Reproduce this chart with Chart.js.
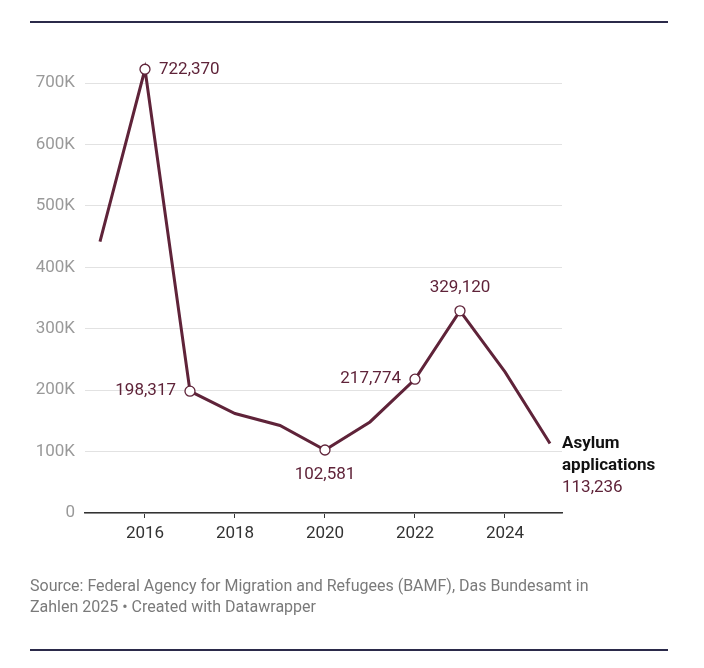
<!DOCTYPE html>
<html>
<head>
<meta charset="utf-8">
<script src="https://cdn.jsdelivr.net/npm/chart.js@4"></script>
<style>
  html, body { margin: 0; padding: 0; background: #fff; }
  #wrap { position: relative; width: 704px; height: 668px; }
</style>
</head>
<body>
<div id="wrap"><canvas id="chart" width="704" height="668"></canvas></div>
<script>
// Data
const years = [2015, 2016, 2017, 2018, 2019, 2020, 2021, 2022, 2023, 2024, 2025];
const applications = [441899, 722370, 198317, 161931, 142509, 102581, 148233, 217774, 329120, 229751, 113236];
const yearTicks = [2016, 2018, 2020, 2022, 2024];
const valueTicks = [0, 100000, 200000, 300000, 400000, 500000, 600000, 700000];

// Which points get a circle + label, and where the label sits
const labelled = [
    { year: 2016, side: 'right' },
    { year: 2017, side: 'left' },
    { year: 2020, side: 'below' },
    { year: 2022, side: 'left' },
    { year: 2023, side: 'above' }
];

const lineColor = '#5f2339';
const fmt = v => v.toLocaleString('en-US');

const annotations = {
    id: 'annotations',
    afterDraw(chart) {
        const c = chart.ctx;
        const xs = chart.scales.x, ys = chart.scales.y;
        c.save();

        // header / footer rules
        c.fillStyle = '#2b2a4a';
        c.fillRect(30, 21, 638, 2);
        c.fillRect(30, 649, 638, 2);

        // labelled points
        c.font = '17px Roboto';
        labelled.forEach(l => {
            const i = years.indexOf(l.year);
            const px = xs.getPixelForValue(l.year), py = ys.getPixelForValue(applications[i]);
            c.beginPath();
            c.arc(px, py, 5, 0, Math.PI * 2);
            c.fillStyle = '#fff';
            c.fill();
            c.lineWidth = 1.3;
            c.strokeStyle = lineColor;
            c.stroke();
            c.fillStyle = lineColor;
            c.textBaseline = 'middle';
            const t = fmt(applications[i]);
            if (l.side === 'right') { c.textAlign = 'left'; c.fillText(t, px + 14, py); }
            if (l.side === 'left') { c.textAlign = 'right'; c.fillText(t, px - 14, py); }
            if (l.side === 'below') { c.textAlign = 'center'; c.fillText(t, px, py + 25); }
            if (l.side === 'above') { c.textAlign = 'center'; c.fillText(t, px, py - 23); }
        });

        // end label
        const last = applications.length - 1;
        const ex = xs.getPixelForValue(years[last]) + 12;
        c.textAlign = 'left';
        c.textBaseline = 'middle';
        c.fillStyle = '#111';
        c.font = 'bold 17px Roboto';
        c.fillText('Asylum', ex, 444);
        c.fillText('applications', ex, 466);
        c.fillStyle = lineColor;
        c.font = '17px Roboto';
        c.fillText(fmt(applications[last]), ex, 488);

        // source
        c.fillStyle = '#7a7a7a';
        c.font = '16px Roboto';
        c.fillText('Source: Federal Agency for Migration and Refugees (BAMF), Das Bundesamt in', 30, 587);
        c.fillText('Zahlen 2025 \u2022 Created with Datawrapper', 30, 608);
        c.restore();
    }
};

new Chart(document.getElementById('chart'), {
    type: 'line',
    data: {
        datasets: [{
            data: years.map((y, i) => ({ x: y, y: applications[i] })),
            borderColor: lineColor,
            borderWidth: 3,
            pointRadius: 0,
            tension: 0,
            clip: false
        }]
    },
    options: {
        responsive: false,
        animation: false,
        devicePixelRatio: 1,
        layout: { padding: { top: 83, right: 142, left: 0, bottom: 0 } },
        plugins: { legend: { display: false }, tooltip: { enabled: false } },
        scales: {
            x: {
                type: 'linear',
                min: 2014.667,
                max: 2025.267,
                afterBuildTicks: s => { s.ticks = yearTicks.map(v => ({ value: v })); },
                afterFit: s => { s.height = 155; },
                ticks: { color: '#333', font: { family: 'Roboto', size: 17 }, padding: 6, callback: v => String(v), maxRotation: 0 },
                grid: { display: true, drawOnChartArea: false, tickLength: 5, color: '#333' },
                border: { color: '#333', width: 1.5 }
            },
            y: {
                min: 0,
                max: 700000,
                afterBuildTicks: s => { s.ticks = valueTicks.map(v => ({ value: v })); },
                afterFit: s => { s.width = 85; },
                ticks: { color: '#999', font: { family: 'Roboto', size: 17 }, padding: 10,
                    callback: v => v === 0 ? '0' : (v / 1000) + 'K' },
                grid: { color: '#e2e2e2', drawTicks: false },
                border: { display: false }
            }
        }
    },
    plugins: [annotations]
});
</script>
</body>
</html>
